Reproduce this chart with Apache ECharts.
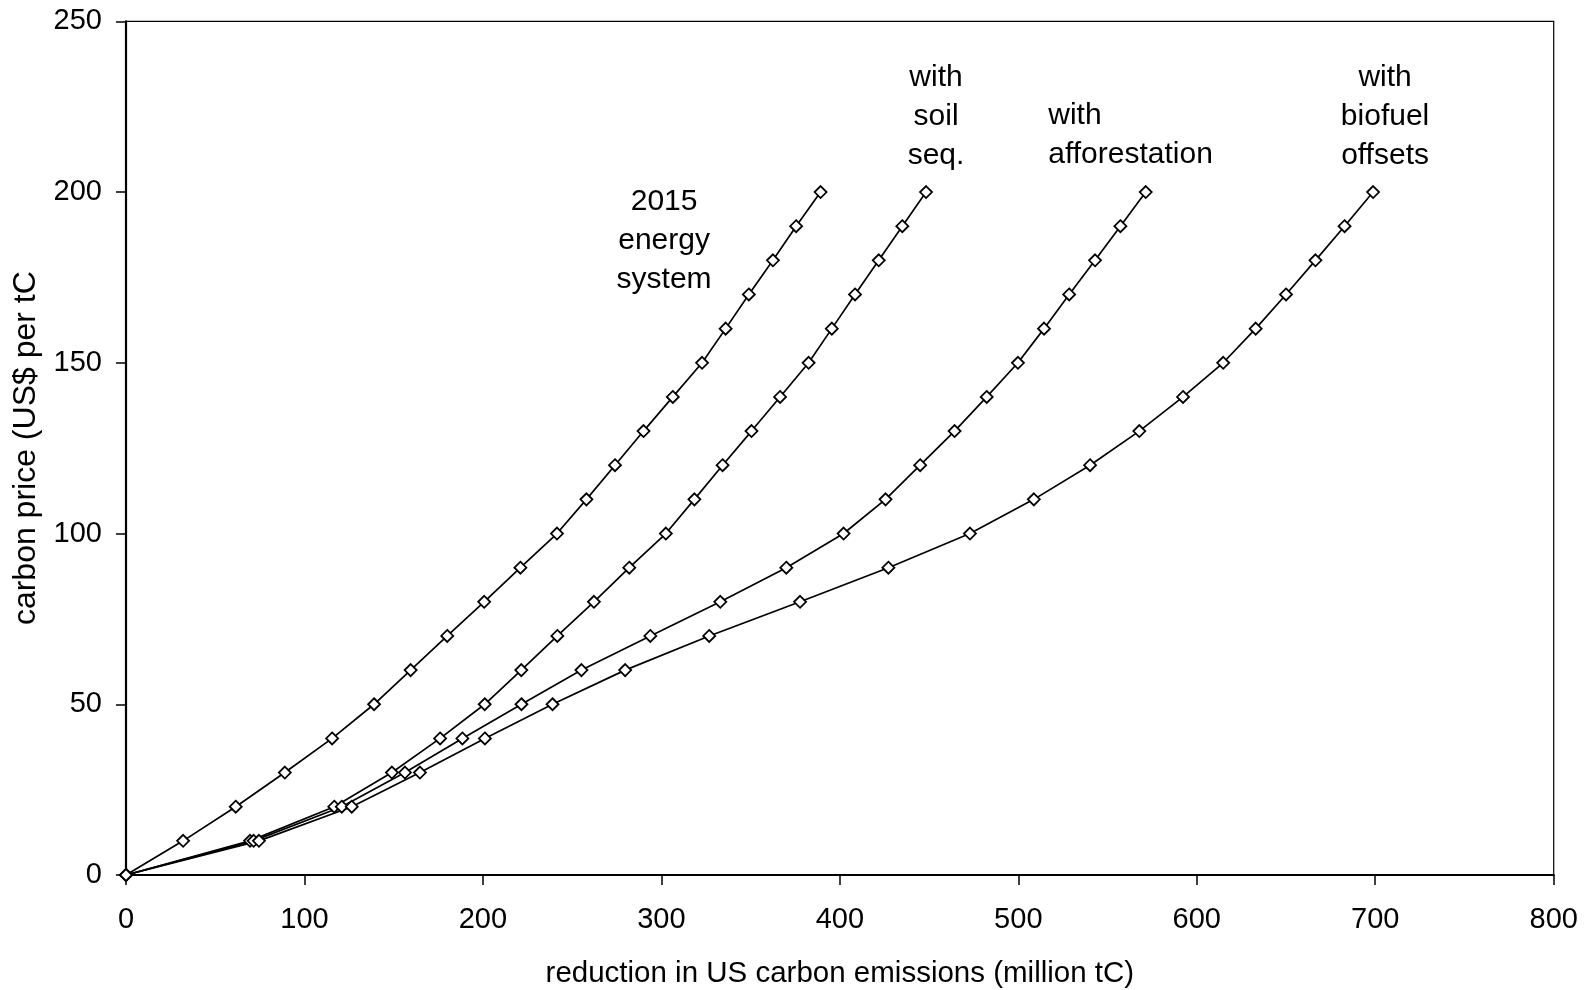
<!DOCTYPE html>
<html>
<head>
<meta charset="utf-8">
<script src="https://cdn.jsdelivr.net/npm/echarts@6/dist/echarts.min.js"></script>
<style>
html,body{margin:0;padding:0;background:#fff;}
#chart{width:1589px;height:990px;}
</style>
</head>
<body>
<div id="chart"></div>
<script>
// Carbon price levels (US$ per tC)
const prices = [0,10,20,30,40,50,60,70,80,90,100,110,120,130,140,150,160,170,180,190,200];
// Reductions (million tC) for each scenario
const energy2015 = [0,32,61.5,89,115.5,139,159.5,180,200.7,221,241.5,258,274,290,306.4,322.8,336,349,362.5,375.5,389.2];
const soilSeq = [0,69.5,116.7,149,176,201,221.5,241.7,262.2,282,302.5,318.5,334.3,350.5,366.5,382.5,395.5,408.5,421.8,435,448.3];
const afforestation = [0,71.5,120.9,156.3,188.5,221.6,255.2,293.8,333,370,402.1,425.6,445,464.3,482.3,499.8,514.4,528.5,543,557.2,571.4];
const biofuel = [0,74.5,126.5,164.7,201.1,239,279.7,326.8,377.7,427.2,472.9,508.7,540.2,567.8,592.3,614.8,633,650,666.5,682.8,698.8];

const xTicks = [0,100,200,300,400,500,600,700,800];
const yTicks = [0,50,100,150,200,250];

// Annotations: [x, y, text, align]
const annotations = [
  [301.5, 185.8, '2015\nenergy\nsystem', 'center'],
  [453.9, 222.1, 'with\nsoil\nseq.', 'center'],
  [516.8, 216.6, 'with\nafforestation', 'left'],
  [705.5, 222.1, 'with\nbiofuel\noffsets', 'center']
];

const FONT = '"Liberation Sans", Arial, sans-serif';

function mkSeries(name, xs) {
  return {
    name: name,
    type: 'line',
    data: xs.map((x, i) => [x, prices[i]]),
    symbol: 'diamond',
    symbolSize: 12,
    showAllSymbol: true,
    lineStyle: {color: '#000', width: 1.7},
    itemStyle: {color: '#fff', borderColor: '#000', borderWidth: 1.8},
    z: 3,
    animation: false
  };
}

const chart = echarts.init(document.getElementById('chart'));
chart.setOption({
  backgroundColor: '#fff',
  animation: false,
  grid: {left: 126, right: 35.3, top: 21.3, bottom: 115, containLabel: false, outerBoundsMode: 'none',
         show: true, borderColor: '#000', borderWidth: 1.2, backgroundColor: 'transparent'},
  xAxis: {
    type: 'value', min: xTicks[0], max: xTicks[xTicks.length-1], interval: 100,
    name: 'reduction in US carbon emissions (million tC)',
    nameLocation: 'middle', nameGap: 84,
    nameTextStyle: {fontFamily: FONT, fontSize: 29.5, color: '#000'},
    axisLine: {show: true, onZero: false, lineStyle: {color: '#000', width: 2.2}},
    axisTick: {show: true, length: 10, lineStyle: {color: '#000', width: 1.5}},
    axisLabel: {fontFamily: FONT, fontSize: 29, color: '#000', margin: 30},
    splitLine: {show: false}
  },
  yAxis: {
    type: 'value', min: yTicks[0], max: yTicks[yTicks.length-1], interval: 50,
    name: 'carbon price (US$ per tC',
    nameLocation: 'middle', nameGap: 84,
    nameTextStyle: {fontFamily: FONT, fontSize: 32, color: '#000'},
    axisLine: {show: true, onZero: false, lineStyle: {color: '#000', width: 2.2}},
    axisTick: {show: true, length: 10, lineStyle: {color: '#000', width: 1.5}},
    axisLabel: {fontFamily: FONT, fontSize: 29, color: '#000', margin: 24},
    splitLine: {show: false}
  },
  series: [
    mkSeries('2015 energy system', energy2015),
    mkSeries('with soil seq.', soilSeq),
    mkSeries('with afforestation', afforestation),
    mkSeries('with biofuel offsets', biofuel),
    {
      type: 'scatter',
      symbolSize: 0,
      silent: true,
      animation: false,
      data: annotations.map(a => ({
        value: [a[0], a[1]],
        label: {
          show: true, position: 'inside', formatter: a[2], align: a[3], verticalAlign: 'middle',
          fontFamily: FONT, fontSize: 30, lineHeight: 39, color: '#000',
          textBorderWidth: 0, opacity: 1
        }
      })),
      z: 5
    }
  ]
});
</script>
</body>
</html>
